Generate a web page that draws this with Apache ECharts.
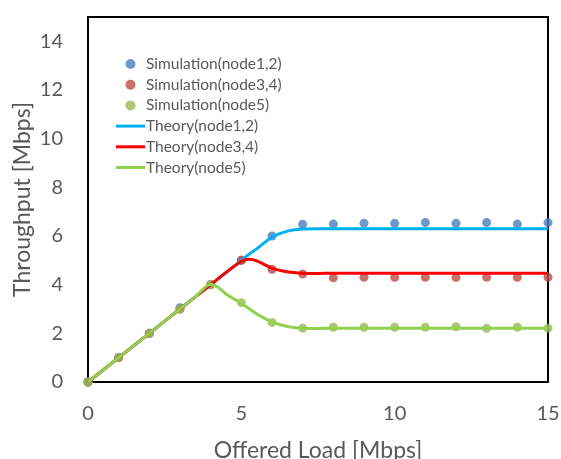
<!DOCTYPE html>
<html>
<head>
<meta charset="utf-8">
<script src="https://cdn.jsdelivr.net/npm/echarts@6/dist/echarts.min.js"></script>
<style>
  html, body { margin: 0; padding: 0; background: #fff; }
  #chart { width: 561px; height: 459px; }
</style>
</head>
<body>
<div id="chart"></div>
<script>
// Offered load (Mbps) for the simulated points
const loadX = [0, 1, 2, 3, 4, 5, 6, 7, 8, 9, 10, 11, 12, 13, 14, 15];

// Simulated throughput (Mbps)
const simNode12 = [0, 1, 2, 3.05, 4, 5, 6.0, 6.48, 6.49, 6.52, 6.52, 6.55, 6.52, 6.55, 6.49, 6.55];
const simNode34 = [0, 1, 2, 3, 4, 5.0, 4.63, 4.44, 4.28, 4.3, 4.3, 4.3, 4.3, 4.3, 4.3, 4.3];
const simNode5  = [0, 1, 2, 3, 4, 3.26, 2.45, 2.21, 2.25, 2.25, 2.25, 2.25, 2.27, 2.21, 2.25, 2.21];

// Analytical throughput (Mbps)
const theoryX = [0, 1, 2, 3, 3.5, 4, 4.25, 4.5, 5, 5.25, 5.5, 6, 6.5, 7, 7.5, 8, 9, 10, 11, 12, 13, 14, 15];
const theoryNode12 = [0, 1, 2, 3, 3.5, 4, 4.25, 4.5, 5, 5.25, 5.47, 5.95, 6.2, 6.29, 6.3, 6.3, 6.3, 6.3, 6.3, 6.3, 6.3, 6.3, 6.3];
const theoryNode34 = [0, 1, 2, 3, 3.5, 4, 4.25, 4.5, 4.95, 5.04, 4.98, 4.68, 4.53, 4.47, 4.46, 4.47, 4.47, 4.47, 4.47, 4.47, 4.47, 4.47, 4.47];
const theoryNode5  = [0, 1, 2, 3, 3.5, 4.02, 3.88, 3.62, 3.23, 3.02, 2.8, 2.47, 2.28, 2.21, 2.2, 2.21, 2.21, 2.21, 2.21, 2.21, 2.21, 2.21, 2.21];

// Axis ranges and tick steps
const xRange = [0, 15], xStep = 5;
const yRange = [0, 15], yStep = 2;

const FONT = 'Lato';
const GRAY = '#595959';
// Plain bar used as the legend icon of the curves
const LINE_ICON = 'path://M0,0H29V3H0Z';

const pairs = (xs, ys) => xs.map((x, i) => [x, ys[i]]);

const scatter = (name, ys, color) => ({
  name, type: 'scatter', data: pairs(loadX, ys),
  symbol: 'circle', symbolSize: 9,
  itemStyle: { color }
});
const curve = (name, ys, color) => ({
  name, type: 'line', data: pairs(theoryX, ys),
  smooth: 0.3, showSymbol: false, symbol: 'none',
  lineStyle: { color, width: 3 }, itemStyle: { color }
});

const chart = echarts.init(document.getElementById('chart'), null, { renderer: 'canvas' });
chart.setOption({
  animation: false,
  backgroundColor: '#fff',
  grid: {
    left: 88, right: 13, top: 17, bottom: 77,
    outerBoundsMode: 'none', containLabel: false,
    show: true, borderColor: '#000', borderWidth: 2, backgroundColor: 'transparent'
  },
  legend: {
    orient: 'vertical', left: 116, top: 56, padding: 0,
    itemWidth: 29, itemHeight: 10, itemGap: 4.7,
    textStyle: { fontFamily: FONT, fontSize: 15.5, lineHeight: 16, color: GRAY, padding: [0, 0, 0, -4] },
    data: [
      { name: 'Simulation(node1,2)', icon: 'circle' },
      { name: 'Simulation(node3,4)', icon: 'circle' },
      { name: 'Simulation(node5)', icon: 'circle' },
      { name: 'Theory(node1,2)', icon: LINE_ICON },
      { name: 'Theory(node3,4)', icon: LINE_ICON },
      { name: 'Theory(node5)', icon: LINE_ICON }
    ]
  },
  xAxis: {
    type: 'value', min: xRange[0], max: xRange[1], interval: xStep,
    name: 'Offered Load [Mbps]', nameLocation: 'middle', nameGap: 57,
    nameTextStyle: { fontFamily: FONT, fontSize: 23, color: GRAY },
    axisLine: { show: true, lineStyle: { color: '#000', width: 2 } },
    axisTick: { show: false },
    splitLine: { show: false },
    axisLabel: { fontFamily: FONT, fontSize: 20, color: GRAY, margin: 22 }
  },
  yAxis: {
    type: 'value', min: yRange[0], max: yRange[1], interval: yStep,
    name: 'Throughput [Mbps]', nameLocation: 'middle', nameGap: 54, nameMoveOverlap: false,
    nameTextStyle: { fontFamily: FONT, fontSize: 23, color: GRAY },
    axisLine: { show: true, lineStyle: { color: '#000', width: 2 } },
    axisTick: { show: false },
    splitLine: { show: false },
    axisLabel: { fontFamily: FONT, fontSize: 20, color: GRAY, margin: 25, showMaxLabel: false }
  },
  series: [
    scatter('Simulation(node1,2)', simNode12, '#4A7EBB'),
    scatter('Simulation(node3,4)', simNode34, '#BE4B48'),
    scatter('Simulation(node5)', simNode5, '#98B954'),
    curve('Theory(node1,2)', theoryNode12, '#00B0F0'),
    curve('Theory(node3,4)', theoryNode34, '#FF0000'),
    curve('Theory(node5)', theoryNode5, '#92D050')
  ]
});
</script>
</body>
</html>
